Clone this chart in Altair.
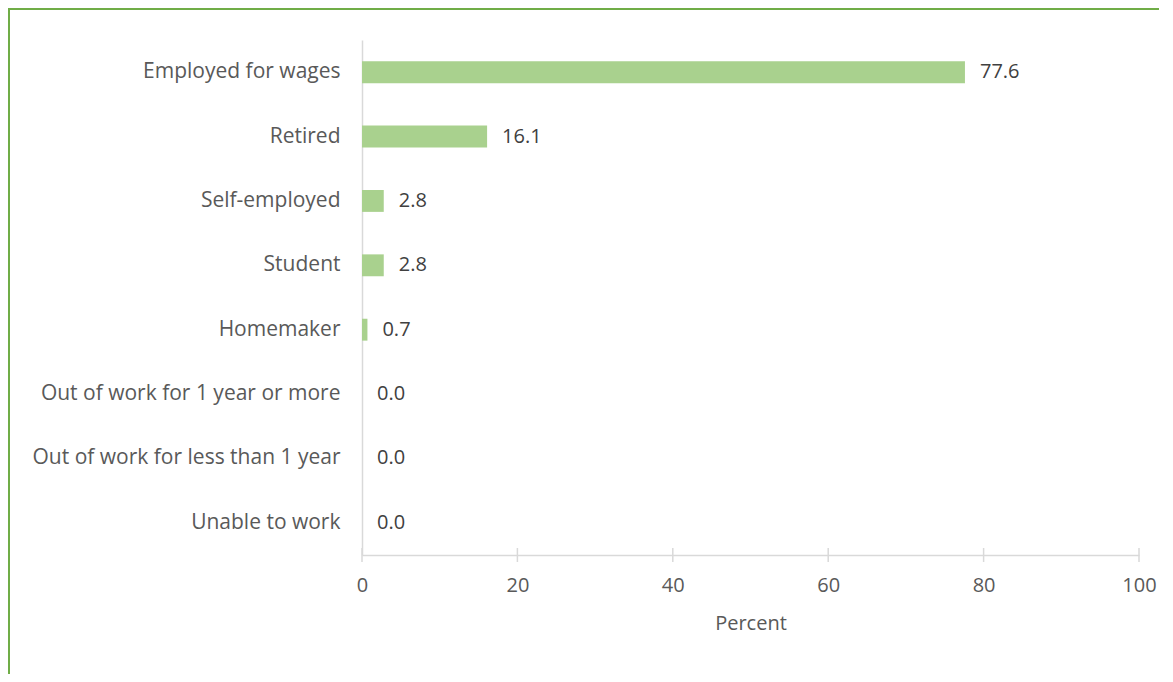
import altair as alt
import pandas as pd

categories = [
    "Employed for wages",
    "Retired",
    "Self-employed",
    "Student",
    "Homemaker",
    "Out of work for 1 year or more",
    "Out of work for less than 1 year",
    "Unable to work",
]
values = [77.6, 16.1, 2.8, 2.8, 0.7, 0.0, 0.0, 0.0]
tick_values = [0, 20, 40, 60, 80, 100]

FONT = "Open Sans"
FS = 21
W, H = 777, 515

df = pd.DataFrame({"category": categories, "value": values})
ticks_df = pd.DataFrame({"t": tick_values})
one = pd.DataFrame({"a": [0]})

xscale = alt.Scale(domain=[0, 100], nice=False)

bars = alt.Chart(df).mark_bar(color="#A9D18E").encode(
    x=alt.X(
        "value:Q",
        scale=xscale,
        axis=alt.Axis(
            values=tick_values,
            title="Percent",
            grid=False,
            ticks=False,
            labelFlush=False,
            domainColor="#D9D9D9",
            domainWidth=1.5,
            labelFont=FONT,
            labelFontSize=FS - 1,
            labelColor="#595959",
            labelPadding=20,
            titleFont=FONT,
            titleFontSize=FS - 1,
            titleFontWeight="normal",
            titleColor="#595959",
            titlePadding=18,
        ),
    ),
    y=alt.Y(
        "category:N",
        sort=categories,
        scale=alt.Scale(paddingInner=0.66, paddingOuter=0.33),
        axis=alt.Axis(
            title=None,
            ticks=False,
            domainColor="#D9D9D9",
            domainWidth=1.5,
            labelFont=FONT,
            labelFontSize=FS,
            labelColor="#595959",
            labelPadding=22,
            labelLimit=400,
        ),
    ),
)

labels = alt.Chart(df).mark_text(
    align="left", baseline="middle", dx=15, font=FONT, fontSize=FS - 1, color="#404040"
).encode(
    x=alt.X("value:Q", scale=xscale),
    y=alt.Y("category:N", sort=categories),
    text=alt.Text("value:Q", format=".1f"),
)

tick_marks = alt.Chart(ticks_df).mark_rule(color="#D9D9D9", strokeWidth=1.5).encode(
    x=alt.X("t:Q", scale=xscale),
    y=alt.value(H - 7),
    y2=alt.value(H + 7),
)

border_top = alt.Chart(one).mark_rule(color="#70AD47", strokeWidth=2).encode(
    x=alt.value(-353), x2=alt.value(W + 30), y=alt.value(-31)
)
border_left = alt.Chart(one).mark_rule(color="#70AD47", strokeWidth=2).encode(
    x=alt.value(-353), y=alt.value(-32), y2=alt.value(H + 130)
)

chart = alt.layer(bars, labels, tick_marks, border_top, border_left).properties(
    width=W,
    height=H,
    autosize=alt.AutoSizeParams(type="none"),
    padding={"left": 354, "top": 32, "right": 20, "bottom": 119},
).configure_view(stroke=None)

chart.save("out.html", embed_options={"renderer": "svg", "actions": False})
